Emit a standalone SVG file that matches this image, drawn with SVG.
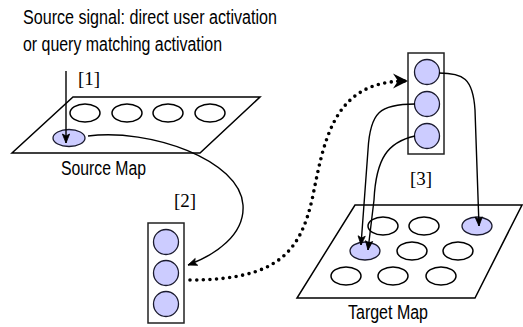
<svg xmlns="http://www.w3.org/2000/svg" width="523" height="327" viewBox="0 0 523 327">
<defs>
<style>
.lbl{font-family:"Liberation Sans",Arial,sans-serif;font-size:19.5px;fill:#000}
.br{font-family:"Liberation Serif","Times New Roman",serif;font-size:19px;fill:#000}
.map{fill:#fff;stroke:#000;stroke-width:1.5}
.cell{fill:#fff;stroke:#000;stroke-width:1.5}
.act{fill:#ccccff;stroke:#1a1a2e;stroke-width:1.3}
.box{fill:#fff;stroke:#222;stroke-width:1.5}
.edge{fill:none;stroke:#000;stroke-width:1.4}
.dot{fill:none;stroke:#000;stroke-width:3.6;stroke-linecap:round;stroke-dasharray:0 6.6}
</style>
<marker id="ah" viewBox="-10 -5 11 10" refX="0" refY="0" markerWidth="11" markerHeight="10" markerUnits="userSpaceOnUse" orient="auto">
<path d="M0,0 L-9,-3.6 L-7,0 L-9,3.6 Z" fill="#000" stroke="#000" stroke-width="0.8" stroke-linejoin="miter"/>
</marker>
<marker id="big" viewBox="-16 -8 17 16" refX="0" refY="0" markerWidth="17" markerHeight="16" markerUnits="userSpaceOnUse" orient="auto">
<path d="M0,0 L-15,-7.5 L-10,0 L-15,7.5 Z" fill="#000"/>
</marker>
</defs>
<rect width="523" height="327" fill="#fff"/>

<g id="title">
<text class="lbl" x="23" y="24" textLength="254" lengthAdjust="spacingAndGlyphs">Source signal: direct user activation</text>
<text class="lbl" x="23" y="51" textLength="199" lengthAdjust="spacingAndGlyphs">or query matching activation</text>
</g>

<g id="source-map">
<polygon class="map" points="73,97 260,97 200,153 12,153"/>
<ellipse class="cell" cx="85" cy="113" rx="15" ry="9"/>
<ellipse class="cell" cx="127" cy="113" rx="15" ry="9"/>
<ellipse class="cell" cx="168" cy="113" rx="15" ry="9"/>
<ellipse class="cell" cx="210" cy="113" rx="15" ry="9"/>
<ellipse class="act" cx="69" cy="138" rx="16" ry="8.5"/>
<text class="lbl" x="61" y="175" textLength="85" lengthAdjust="spacingAndGlyphs">Source Map</text>
</g>

<g id="target-map">
<polygon class="map" points="355,205 522,205 475,298 297,298"/>
<ellipse class="cell" cx="383" cy="226" rx="15" ry="9"/>
<ellipse class="cell" cx="424" cy="226" rx="15" ry="9"/>
<ellipse class="act" cx="477" cy="226" rx="15" ry="9"/>
<ellipse class="act" cx="365" cy="251" rx="15" ry="9"/>
<ellipse class="cell" cx="412" cy="251" rx="15" ry="9"/>
<ellipse class="cell" cx="458" cy="251" rx="15" ry="9"/>
<ellipse class="cell" cx="346" cy="276" rx="15" ry="9"/>
<ellipse class="cell" cx="393" cy="276" rx="15" ry="9"/>
<ellipse class="cell" cx="441" cy="276" rx="15" ry="9"/>
<text class="lbl" x="348" y="319" textLength="80" lengthAdjust="spacingAndGlyphs">Target Map</text>
</g>

<g id="buffer-left">
<rect class="box" x="148" y="223" width="36" height="100"/>
<circle class="act" cx="166" cy="242" r="12.5"/>
<circle class="act" cx="166" cy="273" r="12.5"/>
<circle class="act" cx="166" cy="304" r="12.5"/>
</g>

<g id="buffer-right">
<rect class="box" x="408" y="53" width="36" height="101"/>
<circle class="act" cx="427" cy="72" r="12.5"/>
<circle class="act" cx="427" cy="104" r="12.5"/>
<circle class="act" cx="427" cy="136" r="12.5"/>
</g>

<g id="connectors">
<path class="edge" d="M66,71 L66,143" marker-end="url(#ah)"/>
<path class="edge" d="M88,136 C150,128 240,160 243,205 C245,235 215,255 188,265" marker-end="url(#ah)"/>
<path class="dot" d="M190,280 C280,280 300,250 312,200 C324,142 332,81 406,81"/>
<path d="M408,81 L393,73.5 L398,81 L393,88.5 Z" fill="#000"/>
<path class="edge" d="M439,73 C463,73 473,78 475,110 L479,226" marker-end="url(#ah)"/>
<path class="edge" d="M415,104 C380,104 370,112 368,150 L361,245" marker-end="url(#ah)"/>
<path class="edge" d="M415,136 C388,142 376,158 374,200 L368,250" marker-end="url(#ah)"/>
</g>

<g id="labels">
<text class="br" x="78" y="85">[1]</text>
<text class="br" x="174" y="207">[2]</text>
<text class="br" x="410" y="185">[3]</text>
</g>
</svg>
